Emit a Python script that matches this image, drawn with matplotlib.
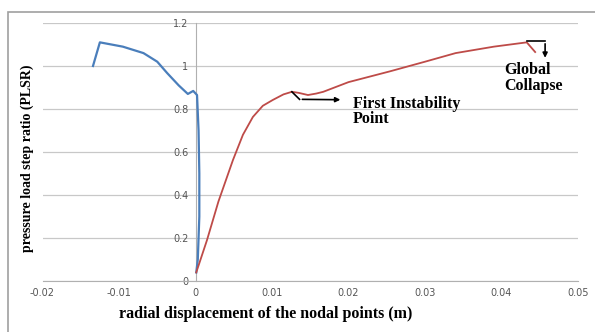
import matplotlib
matplotlib.use("Agg")
import matplotlib.pyplot as plt
from matplotlib.patches import Rectangle

# Data
blue_x = [-0.0134, -0.0125, -0.0095, -0.0068, -0.0050, -0.0037, -0.0022, -0.0010, -0.0003, 0.0002, 0.0004, 0.0005, 0.0005, 0.0004, 0.0003, 0.0001]
blue_y = [1.00, 1.11, 1.09, 1.06, 1.02, 0.967, 0.91, 0.87, 0.884, 0.865, 0.70, 0.50, 0.30, 0.20, 0.10, 0.04]
red_x = [0.0001, 0.0015, 0.0030, 0.0049, 0.0062, 0.0075, 0.0088, 0.0101, 0.0115, 0.0126, 0.0135, 0.0147, 0.0158, 0.0167, 0.0200, 0.0254, 0.0300, 0.0340, 0.0390, 0.0433, 0.0444]
red_y = [0.04, 0.19, 0.37, 0.563, 0.68, 0.763, 0.815, 0.842, 0.868, 0.88, 0.875, 0.865, 0.872, 0.88, 0.925, 0.975, 1.02, 1.06, 1.09, 1.11, 1.065]
x_ticks = [-0.02, -0.01, 0, 0.01, 0.02, 0.03, 0.04, 0.05]
x_ticklabels = ["-0.02", "-0.01", "0", "0.01", "0.02", "0.03", "0.04", "0.05"]
y_ticks = [0, 0.2, 0.4, 0.6, 0.8, 1.0, 1.2]
y_ticklabels = ["0", "0.2", "0.4", "0.6", "0.8", "1", "1.2"]

fig = plt.figure(figsize=(5.95, 3.32), dpi=100)
ax = fig.add_axes([42.5/595, 1-281/332, (578-42.5)/595, (281-23)/332])

ax.plot(blue_x, blue_y, color="#4a7ebb", lw=1.6, zorder=3)
ax.plot(red_x, red_y, color="#be4b48", lw=1.3, zorder=3)

ax.set_xlim(-0.02, 0.05)
ax.set_ylim(0, 1.2)
ax.set_xticks(x_ticks)
ax.set_xticklabels(x_ticklabels)
ax.set_yticks(y_ticks)
ax.set_yticklabels(y_ticklabels)
ax.grid(axis="y", color="#c8c8c8", lw=0.9)
ax.set_axisbelow(True)
for s in ["top", "right"]:
    ax.spines[s].set_visible(False)
ax.spines["left"].set_position(("data", 0))
ax.spines["left"].set_color("#b0b0b0")
ax.spines["bottom"].set_color("#b0b0b0")
ax.tick_params(length=0, labelsize=7, labelcolor="#555555", pad=5)
ax.patch.set_alpha(0)

serif = {"family": "Liberation Serif", "weight": "bold"}
fig.text(266/595, 1-314/332, "radial displacement of the nodal points (m)", ha="center", va="center", fontsize=11.5, **serif)
fig.text(27/595, 1-158/332, "pressure load step ratio (PLSR)", ha="center", va="center", rotation=90, fontsize=10, **serif)

# annotations
ax.plot([0.0126, 0.0136], [0.88, 0.845], color="black", lw=1.2, zorder=4)
ax.annotate("", xy=(0.0193, 0.843), xytext=(0.0136, 0.845),
            arrowprops=dict(arrowstyle="-|>", color="black", lw=1.2, mutation_scale=7), zorder=4)
ax.text(0.0206, 0.787, "First Instability\nPoint", ha="left", va="center", fontsize=11.5, linespacing=0.95, **serif)

ax.plot([0.0433, 0.0457], [1.116, 1.116], color="black", lw=1.2, zorder=4)
ax.annotate("", xy=(0.0457, 1.025), xytext=(0.0457, 1.116),
            arrowprops=dict(arrowstyle="-|>", color="black", lw=1.2, mutation_scale=7), zorder=4)
ax.text(0.0403, 0.944, "Global\nCollapse", ha="left", va="center", fontsize=11.5, linespacing=1.0, **serif)

fig.patches.append(Rectangle((8/595, -0.05), 1.0, 1-12/332+0.05, transform=fig.transFigure,
                             fill=False, edgecolor="#a0a0a0", lw=1.2))

fig.savefig("out.png", dpi=100)
